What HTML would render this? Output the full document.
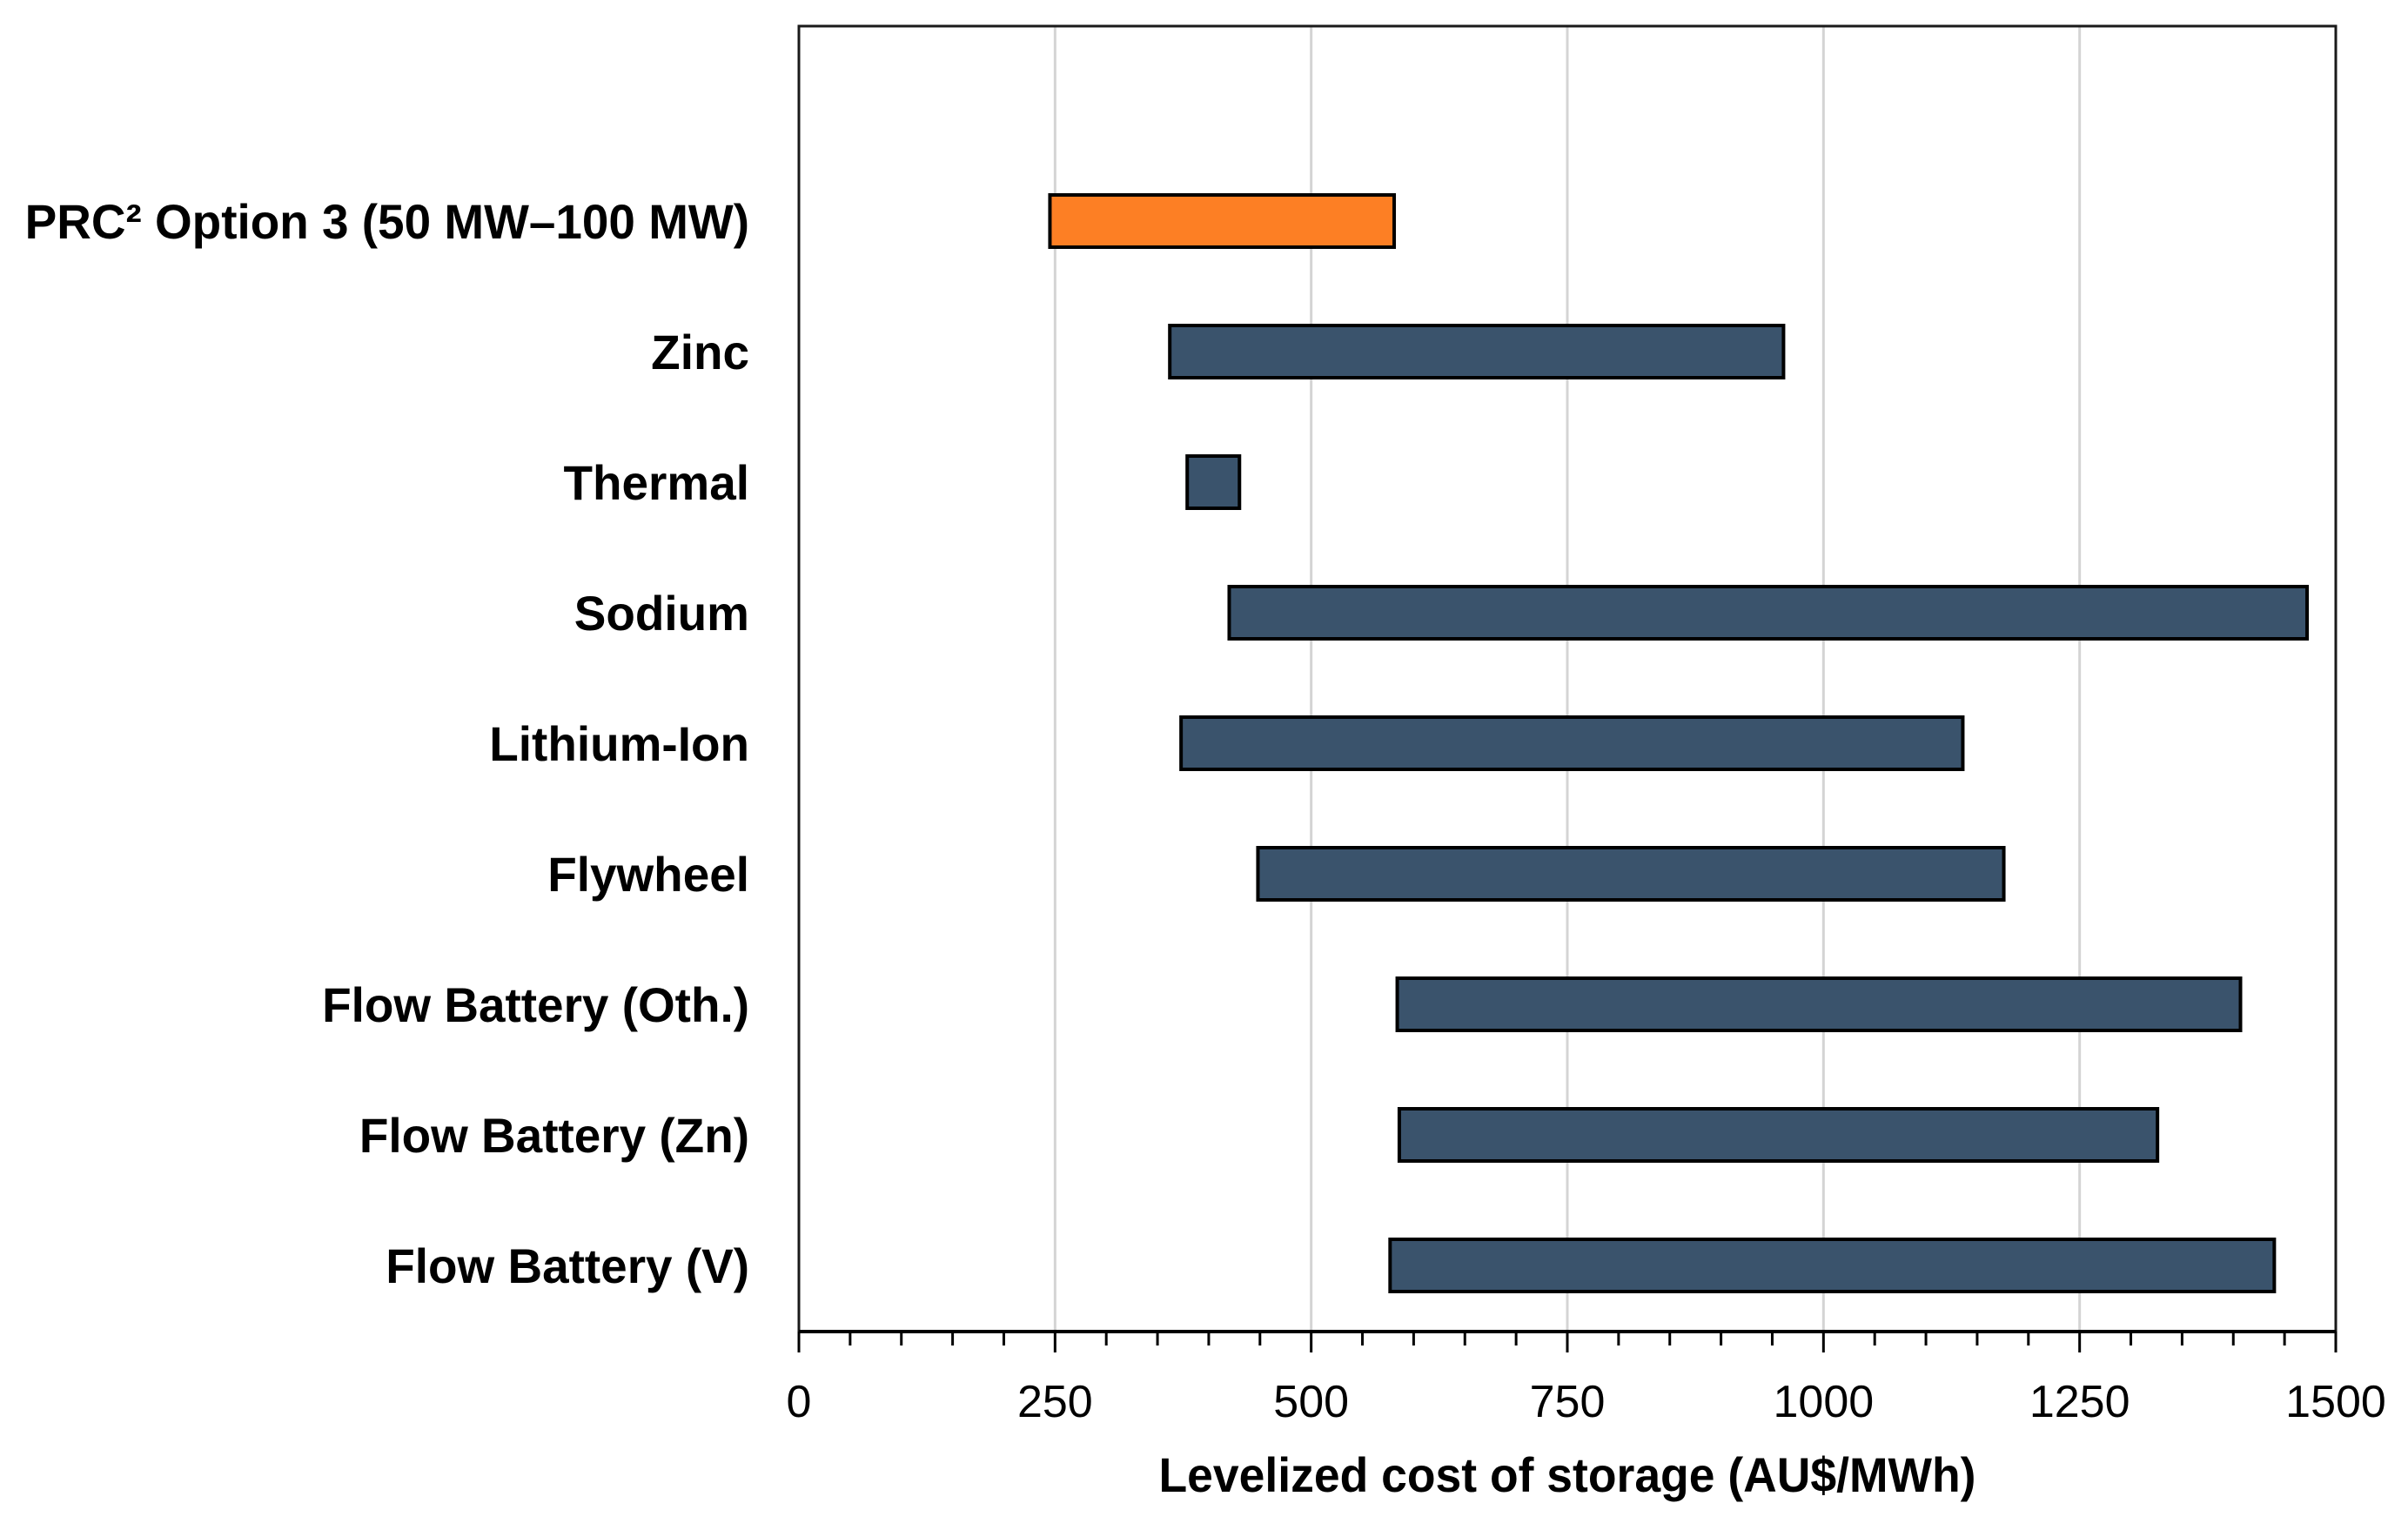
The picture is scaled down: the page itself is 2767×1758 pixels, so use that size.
<!DOCTYPE html>
<html><head><meta charset="utf-8"><style>
html,body{margin:0;padding:0;background:#fff;}
svg{display:block;}
text{font-family:"Liberation Sans",sans-serif;}
</style></head>
<body>
<svg id="chart" width="2767" height="1758" viewBox="0 0 2767 1758" xmlns="http://www.w3.org/2000/svg">
<rect x="0" y="0" width="2767" height="1758" fill="#ffffff"/>
<g id="grid"></g>
<g id="bars"></g>
<g id="axes"></g>
<g id="labels"></g>
</svg>
<script>
const categories = ["PRC\u00B2 Option 3 (50 MW\u2013100 MW)","Zinc","Thermal","Sodium","Lithium-Ion","Flywheel","Flow Battery (Oth.)","Flow Battery (Zn)","Flow Battery (V)"];
const lowValues = [245, 362, 379, 420, 373, 448, 584, 586, 577];
const highValues = [581, 961, 430, 1472, 1136, 1176, 1407, 1326, 1440];
const highlight = [true, false, false, false, false, false, false, false, false];
const tickValues = [0, 250, 500, 750, 1000, 1250, 1500];
const tickLabels = ["0","250","500","750","1000","1250","1500"];
const axisTitle = "Levelized cost of storage (AU$/MWh)";

const NS = "http://www.w3.org/2000/svg";
const X0 = 918, X1 = 2684, Y0 = 30, Y1 = 1530;
const xMin = 0, xMax = 1500;
function xScale(v){ return X0 + (v - xMin) / (xMax - xMin) * (X1 - X0); }
function yScale(i){ return 254 + i * 150; }
const barH = 60;

function mk(tag, attrs, parent){
  const el = document.createElementNS(NS, tag);
  for (const k in attrs) el.setAttribute(k, attrs[k]);
  parent.appendChild(el);
  return el;
}
const grid = document.getElementById('grid');
const bars = document.getElementById('bars');
const axes = document.getElementById('axes');
const labels = document.getElementById('labels');

tickValues.forEach((v, i) => {
  if (v === xMin || v === xMax) return;
  const g = mk('line', {x1: xScale(v), x2: xScale(v), y1: Y0, y2: Y1, stroke: '#d4d4d4', 'stroke-width': 3}, grid);
  
  
});

categories.forEach((c, i) => {
  const x = xScale(lowValues[i]);
  const w = xScale(highValues[i]) - x;
  const r = mk('rect', {x: x, y: yScale(i) - barH/2, width: w, height: barH,
    fill: highlight[i] ? '#fd7f24' : '#3a536c', stroke: '#000', 'stroke-width': 4}, bars);
  
  
});

const frame = mk('rect', {x: X0, y: Y0, width: X1 - X0, height: Y1 - Y0, fill: 'none', stroke: '#1a1a1a', 'stroke-width': 3}, axes);


const xAxis = mk('line', {x1: X0, x2: X1, y1: Y1, y2: Y1, stroke: '#000', 'stroke-width': 4}, axes);



for (let v = xMin; v <= xMax; v += 50) {
  const major = (v % 250 === 0);
  const t = mk('line', {x1: xScale(v), x2: xScale(v), y1: Y1, y2: Y1 + (major ? 24 : 16), stroke: '#000', 'stroke-width': 3}, axes);
  
  
}

tickValues.forEach((v, i) => {
  const t = mk('text', {x: xScale(v), y: 1628, 'text-anchor': 'middle', 'font-size': 52, fill: '#000'}, labels);
  t.textContent = tickLabels[i];
  
  
});

categories.forEach((c, i) => {
  const t = mk('text', {x: 861, y: yScale(i) + 20, 'text-anchor': 'end', 'font-size': 56, 'font-weight': 'bold', fill: '#000'}, labels);
  t.textContent = c;
  
  
  const w = t.getComputedTextLength();
  t.setAttribute('textLength', w * 0.98);
  t.setAttribute('lengthAdjust', 'spacingAndGlyphs');
});

const at = mk('text', {x: (X0 + X1) / 2, y: 1714, 'text-anchor': 'middle', 'font-size': 56, 'font-weight': 'bold', fill: '#000', textLength: 939, lengthAdjust: 'spacingAndGlyphs'}, labels);
at.textContent = axisTitle;


</script>
</body></html>
